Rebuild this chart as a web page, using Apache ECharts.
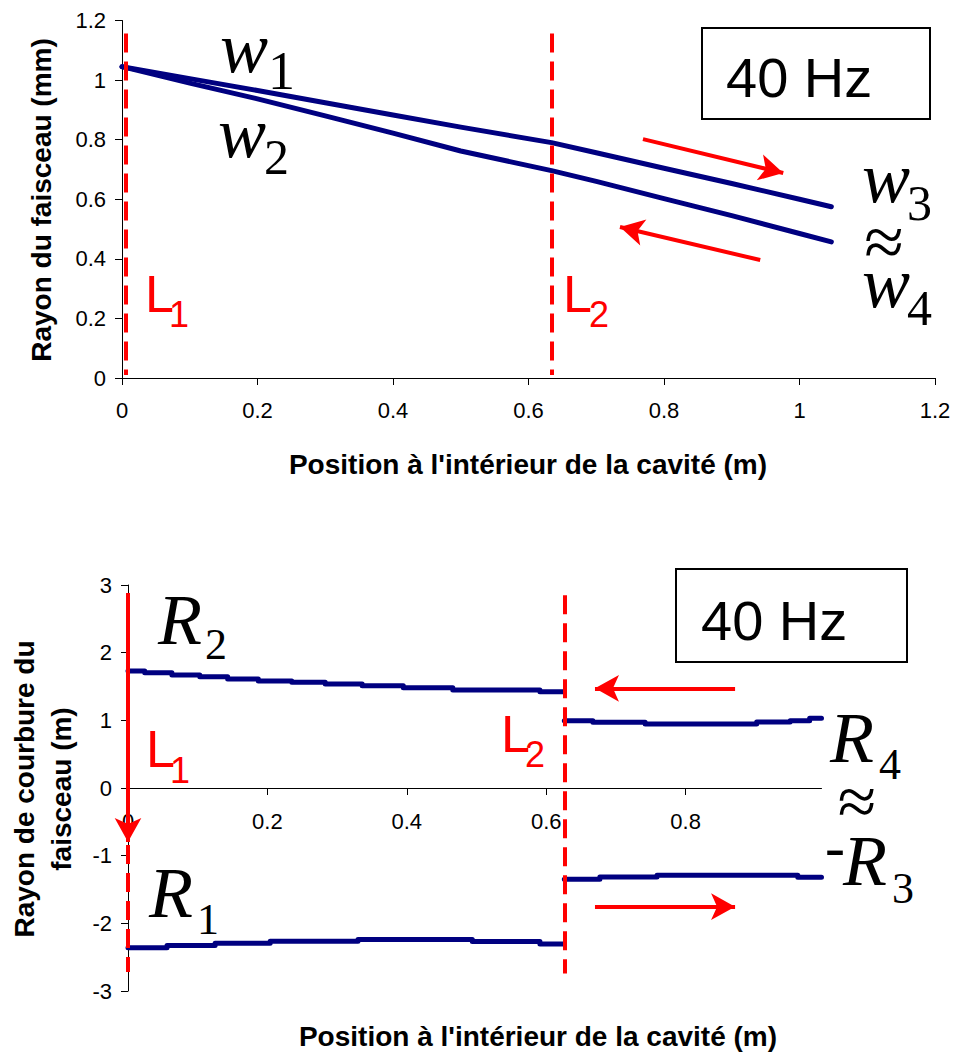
<!DOCTYPE html>
<html>
<head>
<meta charset="utf-8">
<script src="https://cdn.jsdelivr.net/npm/echarts@6/dist/echarts.min.js"></script>
<style>html,body{margin:0;padding:0;background:#fff}#c{width:955px;height:1054px}</style>
</head>
<body>
<div id="c"></div>
<script>
// ---- Top chart: beam radius (mm) ----
const topX = [0, 0.1, 0.2, 0.3, 0.4, 0.5, 0.634, 0.7, 0.8, 0.9, 1.0, 1.047];
const w1w3 = [1.045, 1.005, 0.965, 0.924, 0.883, 0.842, 0.79, 0.756, 0.704, 0.653, 0.600, 0.575];
const w2w4 = [1.045, 0.99, 0.937, 0.88, 0.822, 0.762, 0.696, 0.660, 0.602, 0.545, 0.485, 0.457];
const topTicks = [0, 0.2, 0.4, 0.6, 0.8, 1, 1.2];
const topLens = [0.006, 0.634];

// ---- Bottom chart: radius of curvature (m) ----
const r2X = [0, 0.024, 0.063, 0.103, 0.143, 0.187, 0.235, 0.283, 0.336, 0.395, 0.466, 0.591, 0.626];
const r2Y = [1.728, 1.703, 1.669, 1.644, 1.61, 1.58, 1.561, 1.536, 1.511, 1.482, 1.448, 1.423, 1.423];
const r1X = [0, 0.056, 0.125, 0.204, 0.33, 0.494, 0.591, 0.626];
const r1Y = [-2.359, -2.329, -2.294, -2.265, -2.24, -2.27, -2.304, -2.304];
const r4X = [0.626, 0.667, 0.742, 0.902, 0.95, 0.978, 0.995];
const r4Y = [0.994, 0.97, 0.945, 0.975, 0.994, 1.029, 1.029];
const mr3X = [0.626, 0.677, 0.759, 0.961, 0.995];
const mr3Y = [-1.349, -1.315, -1.29, -1.319, -1.319];
const botXTicks = [0, 0.2, 0.4, 0.6, 0.8];
const botLens = [0.0, 0.626];

const xTitle = "Position à l'intérieur de la cavité (m)";
const yTitleTop = 'Rayon du faisceau (mm)';
const yTitleBot = 'Rayon de courbure du\nfaisceau (m)';
const freqLabel = '40 Hz';

const pairs = (xs, ys) => xs.map((x, i) => [x, ys[i]]);
const SANS = "'Liberation Sans', Arial, sans-serif";
const SERIF = "'Liberation Serif', 'Times New Roman', serif";
const NAVY = '#000080';
const RED = '#ff0000';

const axisCommon = {
  type: 'value',
  splitLine: { show: false },
  axisLine: { show: true, lineStyle: { color: '#000', width: 1 } },
  axisTick: { show: true, length: 7, lineStyle: { color: '#000', width: 1 } },
  axisLabel: { color: '#000', fontSize: 22, fontFamily: SANS }
};

function dashed(x, y1, y2) {
  return [{ coord: [x, y1], symbol: 'none' }, { coord: [x, y2], symbol: 'none',
    lineStyle: { color: RED, width: 4, type: [19, 9] } }];
}
function arrow(x1, y1, x2, y2) {
  return [{ coord: [x1, y1], symbol: 'none' }, { coord: [x2, y2], symbol: 'arrow', symbolSize: [20, 24],
    lineStyle: { color: RED, width: 4, type: 'solid' } }];
}
const mlBase = { silent: true, animation: false, symbol: ['none', 'none'], label: { show: false },
  emphasis: { disabled: true }, lineStyle: { color: RED, width: 4 }, itemStyle: { color: RED } };

const lineSeries = (name, data, xi, extra) => Object.assign({
  type: 'line', name, data, xAxisIndex: xi, yAxisIndex: xi, showSymbol: false, symbol: 'none',
  animation: false, silent: true, lineStyle: { color: NAVY, width: 5, cap: 'round', join: 'round' }
}, extra || {});

function txt(x, y, text, size, opts) {
  opts = opts || {};
  return { type: 'text', x, y, z: 100, silent: true, rotation: opts.rotation || 0,
    style: { text, fontSize: size, fontFamily: opts.family || SANS, fontStyle: opts.style || 'normal',
      fontWeight: opts.weight || 'normal', fill: opts.color || '#000', align: opts.align || 'left',
      verticalAlign: 'middle', lineHeight: opts.lineHeight } };
}
function tb(x, base, text, size, opts) { return txt(x, base - 0.31 * size, text, size, opts); }
const it = { family: SERIF, style: 'italic' };
const rm = { family: SERIF };
const red = { color: RED };

const graphic = [
  txt(41, 200, yTitleTop, 28, { weight: 'bold', align: 'center', rotation: Math.PI / 2 }),
  txt(528, 464, xTitle, 28, { weight: 'bold', align: 'center' }),
  txt(43, 789, yTitleBot, 28, { weight: 'bold', align: 'center', rotation: Math.PI / 2, lineHeight: 37 }),
  txt(538, 1036, xTitle, 28, { weight: 'bold', align: 'center' }),
  { type: 'rect', z: 99, silent: true, shape: { x: 702, y: 28, width: 228, height: 91 }, style: { fill: '#fff', stroke: '#000', lineWidth: 2 } },
  tb(726, 95, freqLabel, 56),
  { type: 'rect', z: 99, silent: true, shape: { x: 676, y: 569, width: 231, height: 93 }, style: { fill: '#fff', stroke: '#000', lineWidth: 2 } },
  tb(701, 638, freqLabel, 56),
  tb(145, 310, 'L', 52, red), tb(169, 326, '1', 36, red),
  tb(563, 310, 'L', 52, red), tb(589, 326, '2', 36, red),
  tb(146, 765, 'L', 52, red), tb(170, 782, '1', 36, red),
  tb(501, 750, 'L', 52, red), tb(525, 766, '2', 36, red),
  tb(220, 70, 'w', 72, it), tb(268, 88, '1', 54, rm),
  tb(218, 155, 'w', 72, it), tb(264, 172, '2', 50, rm),
  tb(862, 200, 'w', 72, it), tb(907, 218, '3', 50, rm),
  txt(884, 242, '≈', 72, Object.assign({ align: 'center' }, rm)),
  tb(862, 305, 'w', 72, it), tb(907, 323, '4', 50, rm),
  tb(158, 642, 'R', 72, it), tb(205, 658, '2', 44, rm),
  tb(149, 915, 'R', 72, it), tb(197, 933, '1', 44, rm),
  tb(830, 760, 'R', 72, it), tb(879, 778, '4', 44, rm),
  txt(857, 801, '≈', 70, Object.assign({ align: 'center' }, rm)),
  txt(825, 847, '-', 60, rm),
  tb(843, 883, 'R', 72, it), tb(892, 902, '3', 44, rm)
];

const option = {
  backgroundColor: '#fff',
  animation: false,
  grid: [
    { left: 122, top: 20.5, width: 813, height: 357.5 },
    { left: 128, top: 585, width: 693.5, height: 406 }
  ],
  xAxis: [
    Object.assign({}, axisCommon, { gridIndex: 0, min: 0, max: 1.2, interval: 0.2,
      axisLabel: Object.assign({}, axisCommon.axisLabel, { margin: 21, customValues: topTicks }),
      axisTick: Object.assign({}, axisCommon.axisTick, { customValues: topTicks }) }),
    Object.assign({}, axisCommon, { gridIndex: 1, min: 0, max: 0.995, interval: 0.2,
      offset: -203,
      axisLine: { show: true, onZero: false, lineStyle: { color: '#000', width: 1 } },
      axisLabel: Object.assign({}, axisCommon.axisLabel, { margin: 22, customValues: botXTicks }),
      axisTick: Object.assign({}, axisCommon.axisTick, { customValues: botXTicks }) })
  ],
  yAxis: [
    Object.assign({}, axisCommon, { gridIndex: 0, min: 0, max: 1.2, interval: 0.2,
      axisLabel: Object.assign({}, axisCommon.axisLabel, { margin: 16 }) }),
    Object.assign({}, axisCommon, { gridIndex: 1, min: -3, max: 3, interval: 1,
      axisLine: { show: true, onZero: false, lineStyle: { color: '#000', width: 1 } },
      axisLabel: Object.assign({}, axisCommon.axisLabel, { margin: 16 }) })
  ],
  series: [
    lineSeries('w1-w3', pairs(topX, w1w3), 0, {
      markLine: Object.assign({}, mlBase, { data: [
        dashed(topLens[0], 1.156, 0.01),
        dashed(topLens[1], 1.156, 0.01),
        arrow(0.769, 0.802, 0.976, 0.688),
        arrow(0.942, 0.396, 0.735, 0.507)
      ] })
    }),
    lineSeries('w2-w4', pairs(topX, w2w4), 0),
    lineSeries('R2', pairs(r2X, r2Y), 1, { step: 'end',
      markLine: Object.assign({}, mlBase, { data: [
        dashed(botLens[0], 2.88, -2.72),
        dashed(botLens[1], 2.85, -2.74),
        arrow(botLens[0], 2.88, botLens[0], -0.798),
        arrow(0.871, 1.473, 0.670, 1.473),
        arrow(0.670, -1.754, 0.871, -1.754)
      ] })
    }),
    lineSeries('R1', pairs(r1X, r1Y), 1, { step: 'end' }),
    lineSeries('R4', pairs(r4X, r4Y), 1, { step: 'end' }),
    lineSeries('-R3', pairs(mr3X, mr3Y), 1, { step: 'end' })
  ],
  graphic: graphic
};

const chart = echarts.init(document.getElementById('c'), null, { renderer: 'svg' });
chart.setOption(option);
</script>
</body>
</html>
